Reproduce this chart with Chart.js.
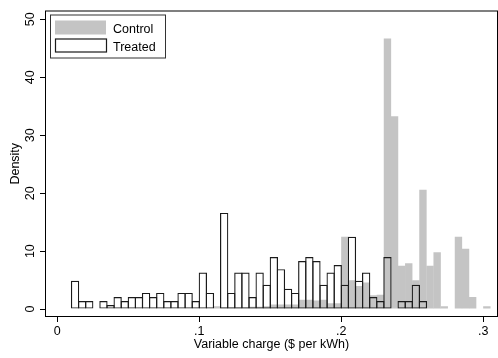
<!DOCTYPE html>
<html>
<head>
<meta charset="utf-8">
<script src="https://cdn.jsdelivr.net/npm/chart.js@4"></script>
<style>
  html, body { margin: 0; padding: 0; background: #fff; }
  #wrap { width: 498px; height: 358px; position: relative; }
</style>
</head>
<body>
<div id="wrap"><canvas id="histChart"></canvas></div>
<script>
// lower edge of each histogram bin ($ per kWh)
const binEdges = [
  0.010, 0.015, 0.020, 0.025, 0.030, 0.035, 0.040, 0.045, 0.050, 0.055,
  0.060, 0.065, 0.070, 0.075, 0.080, 0.085, 0.090, 0.095, 0.100, 0.105,
  0.110, 0.115, 0.120, 0.125, 0.130, 0.135, 0.140, 0.145, 0.150, 0.155,
  0.160, 0.165, 0.170, 0.175, 0.180, 0.185, 0.190, 0.195, 0.200, 0.205,
  0.210, 0.215, 0.220, 0.225, 0.230, 0.235, 0.240, 0.245, 0.250, 0.255,
  0.260, 0.265, 0.270, 0.275, 0.280, 0.285, 0.290, 0.295, 0.300
];
const binWidth = 0.005;

const controlDensity = [
  null, null, null, null, null, null, null, null, null, null,
  null, null, null, null, null, null, null, null, null, null,
  0.5, 0.3, 0.3, 0.3, 0.3, 0.4, 0.4, 0.5, 0.8, 0.8,
  0.8, 0.8, 1.6, 1.6, 1.5, 1.6, 1.0, 1.0, 12.5, 5.0,
  4.0, 4.6, 2.4, 2.5, 46.7, 33.3, 7.5, 7.9, 5.0, 20.6,
  7.5, 9.8, 0.5, null, 12.5, 10.4, 2.1, null, 0.5
];

const treatedDensity = [
  4.9, 1.4, 1.4, null, 1.4, 0.7, 2.1, 1.4, 2.1, 2.1,
  2.8, 2.1, 2.8, 1.4, 1.4, 2.8, 2.8, 1.4, 6.3, 2.8,
  null, 16.6, 2.8, 6.3, 6.3, 2.1, 6.3, 4.2, 9.0, 6.9,
  3.5, 2.8, 8.3, 9.0, 8.3, 4.2, 6.3, 7.6, 4.2, 12.5,
  4.9, 6.3, 2.1, 1.4, 9.0, null, 1.4, 1.4, 4.2, 1.4,
  null, null, null, null, null, null, null, null, null
];

const xTicks = [0, 0.1, 0.2, 0.3];
const xTickLabels = ['0', '.1', '.2', '.3'];
const yTicks = [0, 10, 20, 30, 40, 50];
const yTickLabels = ['0', '10', '20', '30', '40', '50'];

const FONT = '"Liberation Sans", Arial, Helvetica, sans-serif';
Chart.defaults.font.family = FONT;
Chart.defaults.font.size = 12.5;
Chart.defaults.color = '#000';

function toPoints(values) {
  return binEdges
    .map((edge, i) => ({ x: edge + binWidth / 2, y: values[i] }))
    .filter(p => p.y !== null);
}

// outline round the plot region, as Stata draws it
const plotBox = {
  id: 'plotBox',
  afterDraw(chart) {
    const { ctx, chartArea: a } = chart;
    ctx.save();
    ctx.strokeStyle = '#000';
    ctx.lineWidth = 1;
    ctx.strokeRect(a.left + 0.5, a.top + 0.5, a.right - a.left - 1, a.bottom - a.top - 1);
    ctx.restore();
  }
};

// legend box in the top left corner of the plot
const insetLegend = {
  id: 'insetLegend',
  afterDraw(chart) {
    const ctx = chart.ctx;
    const a = chart.chartArea;
    const x = a.left + 5, y = a.top + 4;
    ctx.save();
    ctx.fillStyle = '#fff';
    ctx.fillRect(x, y, 115, 43);
    ctx.strokeStyle = '#333';
    ctx.lineWidth = 1;
    ctx.strokeRect(x + 0.5, y + 0.5, 115, 43);

    const ds = chart.data.datasets;
    const control = ds.find(d => d.label === 'Control');
    const treated = ds.find(d => d.label === 'Treated');

    ctx.fillStyle = control.backgroundColor;
    ctx.fillRect(x + 5, y + 6, 51, 14);

    ctx.strokeStyle = treated.borderColor;
    ctx.lineWidth = 1.2;
    ctx.strokeRect(x + 5.5, y + 24.5, 51, 13);

    ctx.fillStyle = '#000';
    ctx.font = '12.5px ' + FONT;
    ctx.textBaseline = 'alphabetic';
    ctx.fillText(control.label, x + 63, y + 18.5);
    ctx.fillText(treated.label, x + 63, y + 36.5);
    ctx.restore();
  }
};

document.addEventListener('DOMContentLoaded', function () {
  const ctx = document.getElementById('histChart').getContext('2d');
  new Chart(ctx, {
    type: 'bar',
    data: {
      datasets: [{
        label: 'Control',
        data: toPoints(controlDensity),
        backgroundColor: '#c4c4c4',
        borderWidth: 0,
        barPercentage: 1.04,
        categoryPercentage: 1,
        grouped: false,
        order: 2
      }, {
        label: 'Treated',
        data: toPoints(treatedDensity),
        backgroundColor: 'rgba(0,0,0,0)',
        borderColor: '#1a1a1a',
        borderWidth: 1.2,
        borderSkipped: false,
        barPercentage: 1.17,
        categoryPercentage: 1,
        grouped: false,
        order: 1
      }]
    },
    options: {
      responsive: true,
      maintainAspectRatio: false,
      animation: false,
      layout: { padding: { top: 5, right: 0, left: 0, bottom: 0 } },
      plugins: {
        legend: { display: false },
        tooltip: { enabled: false }
      },
      scales: {
        x: {
          type: 'linear',
          min: -0.00866,
          max: 0.31035,
          offset: false,
          afterBuildTicks: axis => { axis.ticks = xTicks.map(v => ({ value: v })); },
          afterFit: axis => { axis.height = 41; },
          grid: { drawOnChartArea: false, offset: false, color: '#000', tickLength: 5 },
          border: { display: false },
          ticks: {
            padding: 2,
            maxRotation: 0,
            callback: (v, i) => xTickLabels[i]
          },
          title: {
            display: true,
            text: 'Variable charge ($ per kWh)',
            padding: { top: 0, bottom: 5.5 }
          }
        },
        y: {
          type: 'linear',
          min: -1.36,
          max: 51.53,
          afterBuildTicks: axis => { axis.ticks = yTicks.map(v => ({ value: v })); },
          afterFit: axis => { axis.width = 45; },
          grid: { drawOnChartArea: false, color: '#000', tickLength: 5 },
          border: { display: false },
          ticks: {
            minRotation: 90,
            maxRotation: 90,
            crossAlign: 'center',
            padding: 3,
            callback: (v, i) => yTickLabels[i]
          },
          title: {
            display: true,
            text: 'Density',
            padding: { top: 7.8, bottom: 0 }
          }
        }
      }
    },
    plugins: [plotBox, insetLegend]
  });
});
</script>
</body>
</html>
